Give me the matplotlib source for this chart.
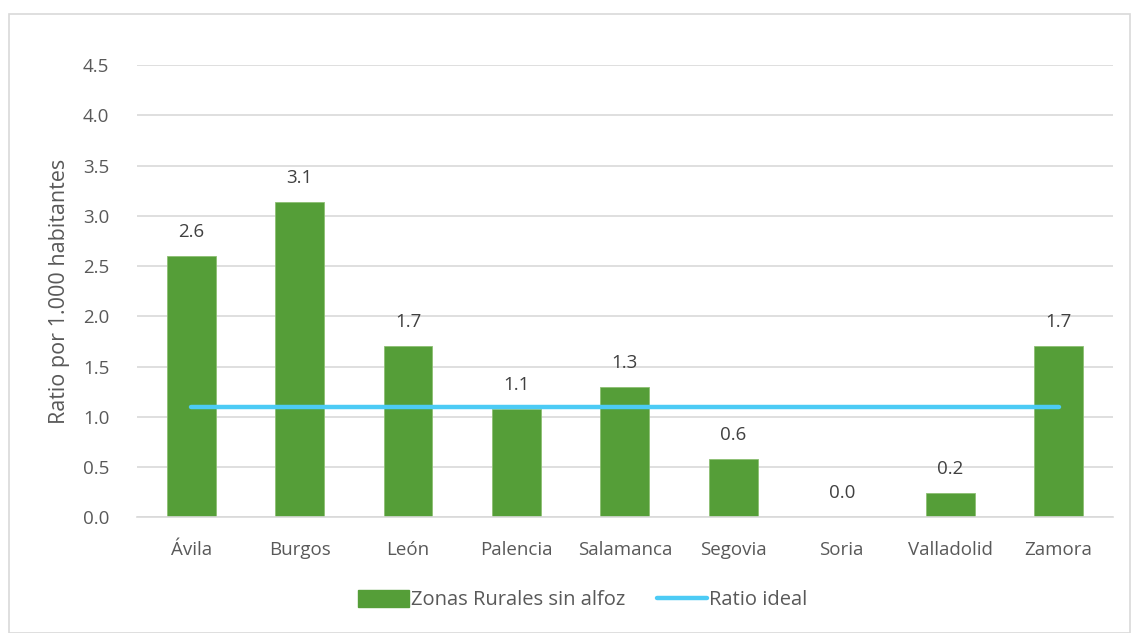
import matplotlib
matplotlib.use('Agg')
import matplotlib.pyplot as plt
import matplotlib.patches as mpatches
import numpy as np

# datos
provincias = ['Ávila', 'Burgos', 'León', 'Palencia', 'Salamanca', 'Segovia', 'Soria', 'Valladolid', 'Zamora']
zonasRurales = [2.6, 3.14, 1.7, 1.08, 1.3, 0.58, 0.0, 0.24, 1.7]
ratioIdeal = [1.1] * len(provincias)
yTicks = [0.0, 0.5, 1.0, 1.5, 2.0, 2.5, 3.0, 3.5, 4.0, 4.5]

plt.rcParams['font.family'] = ['Open Sans', 'DejaVu Sans']
colorTexto = '#595959'
colorBarra = '#559E38'
colorLinea = '#4CCBF5'

fig = plt.figure(figsize=(11.32, 6.33), dpi=100)
ax = fig.add_axes([0.121, 0.183, 0.862, 0.714])

# marco del grafico
fig.patches.append(mpatches.Rectangle((0.008, 0.0), 0.99, 0.978, transform=fig.transFigure,
                                      fill=False, edgecolor='#D9D9D9', linewidth=1.2))

x = np.arange(len(provincias))
ax.bar(x, zonasRurales, width=0.45, color=colorBarra, edgecolor='#8DBF73', linewidth=0.6,
       zorder=2, label='Zonas Rurales sin alfoz')
ax.plot(x, ratioIdeal, color=colorLinea, linewidth=3.2, solid_capstyle='round',
        zorder=3, label='Ratio ideal')

for xi, v in zip(x, zonasRurales):
    ax.text(xi, v + 0.15, '%.1f' % v, ha='center', va='bottom', fontsize=13.5, color='#404040')

ax.set_xlim(-0.5, len(provincias) - 0.5)
ax.set_ylim(0, 4.5)
ax.set_yticks(yTicks)
ax.set_yticklabels(['%.1f' % t for t in yTicks])
ax.set_xticks(x)
ax.set_xticklabels(provincias)
ax.tick_params(axis='both', length=0, labelsize=13.5, labelcolor=colorTexto)
ax.tick_params(axis='y', pad=20)
ax.tick_params(axis='x', pad=17)
ax.grid(axis='y', color='#D9D9D9', linewidth=1.2, zorder=0)
ax.set_axisbelow(True)
for s in ['top', 'right', 'left']:
    ax.spines[s].set_visible(False)
ax.spines['bottom'].set_color('#D9D9D9')
ax.spines['bottom'].set_linewidth(1.2)

ax.set_ylabel('Ratio por 1.000 habitantes', fontsize=15.5, color=colorTexto, labelpad=9)

patches = [mpatches.Patch(color=colorBarra, label='Zonas Rurales sin alfoz'),
           plt.Line2D([], [], color=colorLinea, linewidth=3.2, solid_capstyle='round', label='Ratio ideal')]
leg = fig.legend(handles=patches, loc='center', bbox_to_anchor=(0.515, 0.052), ncol=2, frameon=False,
                 fontsize=14.5, handlelength=2.5, handleheight=0.95, handletextpad=0.1, columnspacing=1.6)
for t in leg.get_texts():
    t.set_color(colorTexto)

fig.savefig('out.png', dpi=100)
